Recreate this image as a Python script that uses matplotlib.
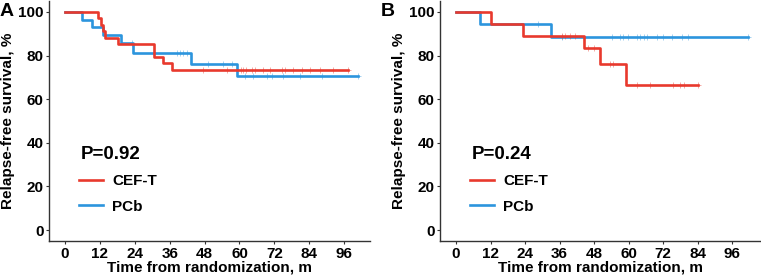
import numpy as np
import matplotlib
matplotlib.use("Agg")
import matplotlib.pyplot as plt

plt.rcParams['font.family'] = ['Liberation Sans', 'DejaVu Sans']
plt.rcParams['font.weight'] = 'bold'

RED = '#E8392D'
BLUE = '#2C95DD'

# Panel A: step curves (time of drop, survival after drop)
a_red_t = [0, 11.2, 12.4, 13.2, 13.8, 18.1, 30.6, 33.8, 36.9, 97.4]
a_red_s = [100, 97.1, 94.1, 91.2, 88.2, 85.3, 79.4, 76.5, 73.5, 73.5]
a_red_cens_t = [47.6, 55.6, 60.4, 61.3, 62.4, 64.2, 65.3, 68.2, 70.5, 74.5, 75.7, 78.5, 81.4, 84.2, 87.7, 92.3, 97.4]
a_red_cens_s = [73.5] * 17

a_blue_t = [0, 5.7, 9.2, 13.2, 19.1, 23.5, 43.3, 59.0, 100.8]
a_blue_s = [100, 96.4, 92.9, 89.3, 85.7, 81.2, 76.2, 70.5, 70.5]
a_blue_cens_t = [23.0, 38.4, 39.5, 40.7, 41.8, 49.3, 54.4, 57.3, 61.9, 64.8, 69.4, 71.1, 75.1, 80.8, 88.3, 100.8]
a_blue_cens_s = [85.7, 81.2, 81.2, 81.2, 81.2, 76.2, 76.2, 76.2, 70.5, 70.5, 70.5, 70.5, 70.5, 70.5, 70.5, 70.5]

# Panel B
b_red_t = [0, 12.2, 23.4, 44.6, 49.9, 59.1, 84.3]
b_red_s = [100, 94.4, 88.9, 83.3, 76.2, 66.7, 66.7]
b_red_cens_t = [36.8, 38.0, 39.7, 41.4, 46.0, 47.8, 53.6, 54.7, 62.8, 67.5, 75.6, 77.9, 79.1, 84.3]
b_red_cens_s = [88.9, 88.9, 88.9, 88.9, 83.3, 83.3, 76.2, 76.2, 66.7, 66.7, 66.7, 66.7, 66.7, 66.7]

b_blue_t = [0, 8.35, 32.9, 101.7]
b_blue_s = [100, 94.4, 88.3, 88.3]
b_blue_cens_t = [28.6, 37.0, 54.1, 57.0, 58.2, 59.9, 62.8, 64.0, 65.2, 66.3, 69.8, 72.1, 75.0, 78.5, 80.8, 101.7]
b_blue_cens_s = [94.4, 88.3] + [88.3] * 14

groups = ['CEF-T', 'PCb']
p_values = ['P=0.92', 'P=0.24']
panel_letters = ['A', 'B']
xticks = [0, 12, 24, 36, 48, 60, 72, 84, 96]
yticks = [0, 20, 40, 60, 80, 100]

fig = plt.figure(figsize=(7.61, 2.77), dpi=100)
ax_a = fig.add_axes([49/761, 36/277, 321/761, 240/277])
ax_b = fig.add_axes([440/761, 36/277, 320/761, 240/277])

panels = [
    (ax_a, (a_red_t, a_red_s, a_red_cens_t, a_red_cens_s), (a_blue_t, a_blue_s, a_blue_cens_t, a_blue_cens_s), (-5.5, 104.9)),
    (ax_b, (b_red_t, b_red_s, b_red_cens_t, b_red_cens_s), (b_blue_t, b_blue_s, b_blue_cens_t, b_blue_cens_s), (-5.6, 105.7)),
]

for i, (ax, red, blue, xl) in enumerate(panels):
    for (t, s, ct, cs), col, lab in [(blue, BLUE, groups[1]), (red, RED, groups[0])]:
        ax.step(t, s, where='post', color=col, lw=1.9, label=lab)
        ax.plot(ct, cs, linestyle='none', marker='+', ms=4, mew=0.6, color=col, alpha=0.5)
    ax.set_xlim(*xl)
    ax.set_ylim(-5, 105)
    ax.set_xticks(xticks)
    ax.set_yticks(yticks)
    ax.tick_params(labelsize=11, length=2, width=0.8, color='#333333', pad=2)
    for lbl in ax.get_xticklabels() + ax.get_yticklabels():
        lbl.set_fontweight('bold')
    for sp in ['top', 'right']:
        ax.spines[sp].set_visible(False)
    for sp in ['left', 'bottom']:
        ax.spines[sp].set_color('#333333')
        ax.spines[sp].set_linewidth(1.0)
    ax.set_xlabel('Time from randomization, m', fontsize=11, fontweight='bold', labelpad=0)
    ax.set_ylabel('Relapse-free survival, %', fontsize=11, fontweight='bold', labelpad=2)
    ax.text(0.10, 0.36, p_values[i], transform=ax.transAxes, fontsize=13.5, fontweight='bold', va='center')
    h, l = ax.get_legend_handles_labels()
    leg = ax.legend(h[::-1], l[::-1], loc='upper left', bbox_to_anchor=(0.05, 0.335), frameon=False,
                    handlelength=1.6, handletextpad=0.6, labelspacing=0.75,
                    prop={'weight': 'bold', 'size': 11})

fig.text(0/761, 1 - 3/277, 'A', fontsize=14, fontweight='bold', va='top', ha='left')
fig.text(381/761, 1 - 3/277, 'B', fontsize=14, fontweight='bold', va='top', ha='left')

fig.savefig('out.png', dpi=100)
